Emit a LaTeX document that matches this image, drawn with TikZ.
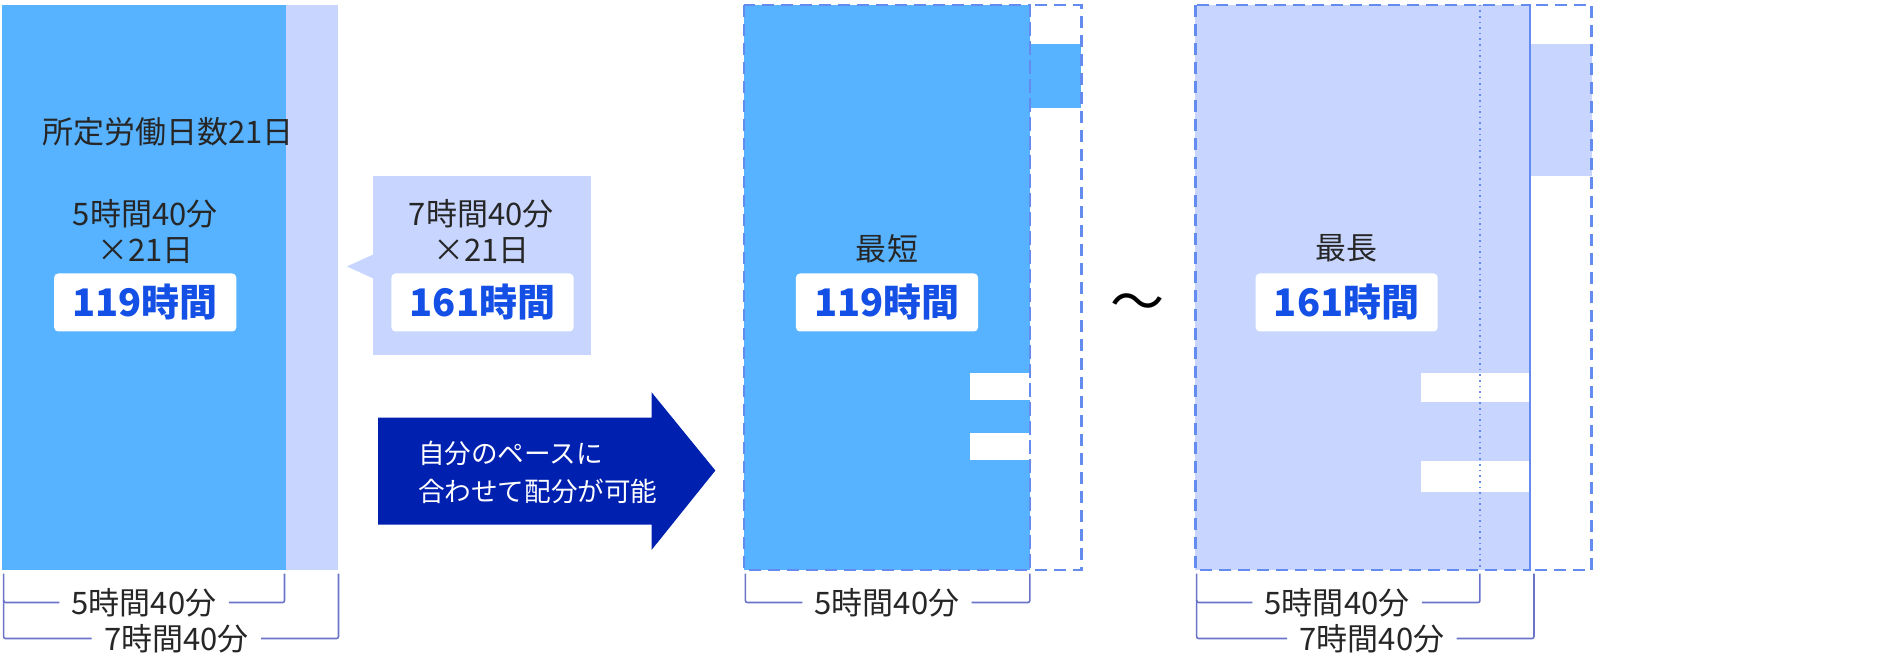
\documentclass[tikz,border=0pt]{standalone}
\usepackage{fontspec}
\setmainfont{Noto Sans CJK JP}
\usetikzlibrary{positioning,calc}
\definecolor{barblue}{RGB}{87,178,255}
\definecolor{barlight}{RGB}{200,214,255}
\definecolor{arrowblue}{RGB}{0,32,175}
\definecolor{numblue}{RGB}{20,80,230}
\definecolor{brace}{RGB}{105,115,200}
\definecolor{dashblue}{RGB}{100,140,240}
\begin{document}
\begin{tikzpicture}[
    x=0.6pt, y=-0.6pt,
    label/.style={font=\fontsize{15.5}{18}\selectfont, text=black!85, inner sep=0pt},
    hours/.style={fill=white, rounded corners=2pt, minimum width=91pt, minimum height=29pt, font=\fontsize{19}{21}\selectfont\bfseries, text=numblue},
    brk/.style={draw=brace, thick, rounded corners=1pt},
    dashbox/.style={draw=dashblue, line width=1.1pt, dash pattern=on 6pt off 3.5pt}
]
    \useasboundingbox (0,0) rectangle (1573,550);
    % left: fixed schedule
    \fill[barblue] (2,4) rectangle (238,475);
    \fill[barlight] (238,4) rectangle (282,475);
    \node[label] (days) at (140,110) {所定労働日数21日};
    \node[label, align=center] (short) at (121,193) {5時間40分\\×21日};
    \node[hours] (total1) at (121,252) {119時間};
    % callout
    \fill[barlight] (311,147) rectangle (492,296);
    \fill[barlight] (311,212) -- (289,222) -- (311,232) -- cycle;
    \node[label, align=center] (long) at (401,193) {7時間40分\\×21日};
    \node[hours] (total2) at (402,252) {161時間};
    % arrow
    \fill[arrowblue] (315,348) -- (543,348) -- (543,327) -- (596,392) -- (543,458) -- (543,437) -- (315,437) -- cycle;
    \node[label, font=\fontsize{13.3}{16}\selectfont, text=white, align=left, anchor=west] (flex) at (348,394) {自分のペースに\\[3pt]合わせて配分が可能};
    % middle: shortest
    \fill[barblue] (620,4) rectangle (858,475);
    \fill[barblue] (858,37) rectangle (901,90);
    \fill[white] (808,311) rectangle (858,333);
    \fill[white] (808,361) rectangle (858,383);
    \draw[dashbox] (620,4) rectangle (858,475);
    \draw[dashbox] (858,4) rectangle (901,475);
    \node[label] (min) at (739,207) {最短};
    \node[hours] (total3) at (739,252) {119時間};
    \node[font=\fontsize{27}{27}\selectfont] (tilde) at (948,256) {〜};
    % right: longest
    \fill[barlight] (996,4) rectangle (1275,475);
    \fill[barlight] (1275,37) rectangle (1326,147);
    \fill[white] (1184,311) rectangle (1275,335);
    \fill[white] (1184,384) rectangle (1275,410);
    \draw[dashblue, thick, dotted] (1233,4) -- (1233,475);
    \draw[dashbox] (996,4) rectangle (1275,475);
    \draw[dashbox] (1275,4) rectangle (1326,475);
    \node[label] (max) at (1122,207) {最長};
    \node[hours] (total4) at (1122,252) {161時間};
    % brackets
    \node[label, fill=white, inner xsep=6pt] (b1) at (120,502) {5時間40分};
    \node[label, fill=white, inner xsep=6pt] (b2) at (147,532) {7時間40分};
    \node[label, fill=white, inner xsep=6pt] (b3) at (739,502) {5時間40分};
    \node[label, fill=white, inner xsep=6pt] (b4) at (1114,502) {5時間40分};
    \node[label, fill=white, inner xsep=6pt] (b5) at (1143,532) {7時間40分};
    \draw[brk] (b1.west) -- (3,502) -- (3,478);
    \draw[brk] (b1.east) -- (237,502) -- (237,478);
    \draw[brk] (b2.west) -- (3,532) -- (3,500);
    \draw[brk] (b2.east) -- (282,532) -- (282,478);
    \draw[brk] (b3.west) -- (621,502) -- (621,478);
    \draw[brk] (b3.east) -- (858,502) -- (858,478);
    \draw[brk] (b4.west) -- (997,502) -- (997,478);
    \draw[brk] (b4.east) -- (1233,502) -- (1233,478);
    \draw[brk] (b5.west) -- (997,532) -- (997,500);
    \draw[brk] (b5.east) -- (1278,532) -- (1278,478);
\end{tikzpicture}
\end{document}
